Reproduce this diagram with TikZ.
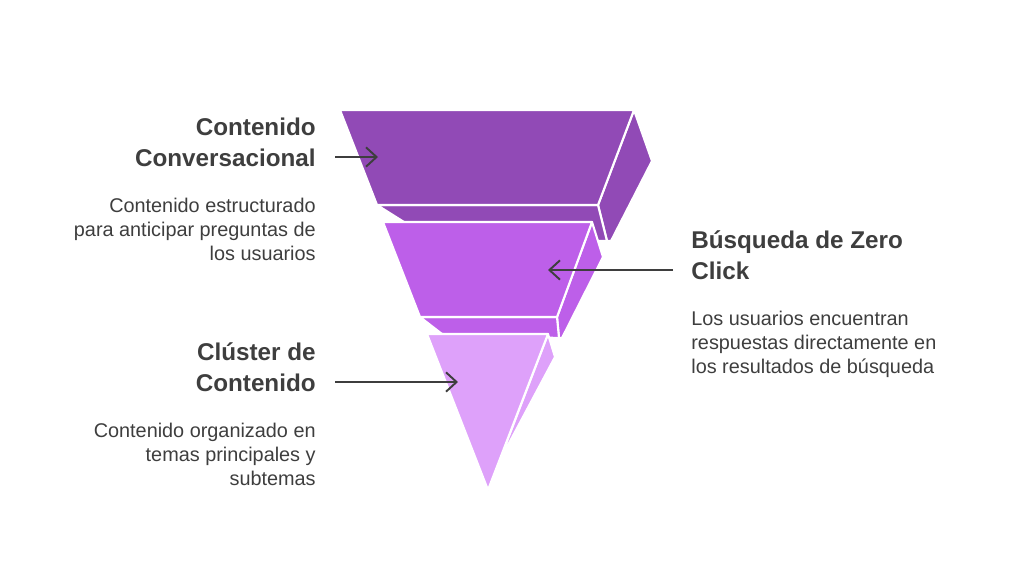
\documentclass[tikz,border=0pt]{standalone}
\usepackage{fontspec}
\setmainfont{Liberation Sans}
\usepackage{xcolor}
\usepackage{tikz}
\usetikzlibrary{positioning, arrows.meta}
\definecolor{deepviolet}{RGB}{145,74,182}
\definecolor{midviolet}{RGB}{189,95,233}
\definecolor{paleviolet}{RGB}{222,161,250}
\definecolor{inkgray}{RGB}{62,62,62}
\tikzstyle{headline} = [inner sep=0pt, text=inkgray, font=\bfseries\fontsize{13.8}{17.6}\selectfont]
\tikzstyle{blurb} = [inner sep=0pt, text=inkgray, font=\fontsize{11.3}{13.6}\selectfont]
\tikzstyle{layer} = [draw=white, line width=1.2pt, line join=round]
\tikzstyle{pointer} = [-{Straight Barb[length=6pt,width=11pt]}, line width=1.1pt, draw=inkgray]

\begin{document}
\begin{tikzpicture}[x=0.02cm, y=-0.02cm]
		\useasboundingbox (0,0) rectangle (1024,576);
		% top layer
		\filldraw [layer, fill=deepviolet] (634,110) -- (652,161) -- (611,241) -- (607,241) -- (598,205) -- cycle;
		\filldraw [layer, fill=deepviolet] (377,205) -- (598,205) -- (607,241) -- (600,241) -- (404,222) -- cycle;
		\filldraw [layer, fill=deepviolet] (340,110) -- (634,110) -- (598,205) -- (377,205) -- cycle;
		% middle layer
		\filldraw [layer, fill=midviolet] (592,222) -- (603,257) -- (562,338) -- (559,338) -- (557,317) -- cycle;
		\filldraw [layer, fill=midviolet] (420,317) -- (557,317) -- (559,338) -- (442,334) -- cycle;
		\filldraw [layer, fill=midviolet] (383,222) -- (592,222) -- (557,317) -- (420,317) -- cycle;
		% bottom layer
		\filldraw [layer, fill=paleviolet] (548,334) -- (555,357) -- (499,462) -- cycle;
		\filldraw [layer, fill=paleviolet] (427,334) -- (548,334) -- (488,490) -- cycle;

		\node (Conversacional)[headline, anchor=south east, align=right] at (316,167) {Contenido\\Conversacional};
		\node (Conversacional Text)[blurb, below=0.62cm of Conversacional.south east, anchor=north east, align=right]{Contenido estructurado\\para anticipar preguntas de\\los usuarios};
		\node (Zero Click)[headline, anchor=south west, align=left] at (691,280) {Búsqueda de Zero\\Click};
		\node (Zero Click Text)[blurb, below=0.62cm of Zero Click.south west, anchor=north west, align=left]{Los usuarios encuentran\\respuestas directamente en\\los resultados de búsqueda};
		\node (Cluster)[headline, anchor=south east, align=right] at (316,392) {Clúster de\\Contenido};
		\node (Cluster Text)[blurb, below=0.62cm of Cluster.south east, anchor=north east, align=right]{Contenido organizado en\\temas principales y\\subtemas};

		\coordinate (Conversacional Tail) at (335,157);
		\coordinate (Top Layer) at (378,157);
		\coordinate (Zero Click Tail) at (673,270);
		\coordinate (Middle Layer) at (548,270);
		\coordinate (Cluster Tail) at (335,382);
		\coordinate (Bottom Layer) at (458,382);
		\draw [pointer] (Conversacional Tail) -- (Top Layer);
		\draw [pointer] (Zero Click Tail) -- (Middle Layer);
		\draw [pointer] (Cluster Tail) -- (Bottom Layer);
	\end{tikzpicture}
\end{document}
